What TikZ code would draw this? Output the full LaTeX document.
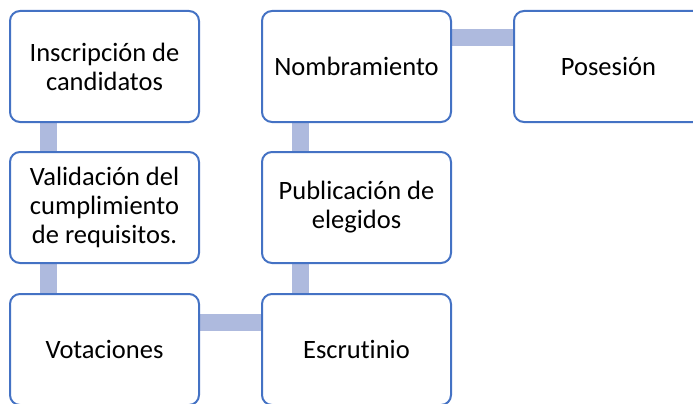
\documentclass[tikz,border=0pt]{standalone}
\usepackage{fontspec}
\setmainfont{Carlito}[Ligatures=NoCommon]
\usepackage{tikz}
\usetikzlibrary{positioning,backgrounds}
\definecolor{boxblue}{RGB}{68, 114, 196}
\definecolor{linkblue}{RGB}{174, 186, 222}
\tikzstyle{stepbox} = [rectangle, rounded corners=10pt, draw=boxblue, line width=2pt, fill=white, text=black, align=center, outer sep=0pt, inner sep=4pt, font=\fontsize{26.5pt}{29pt}\selectfont, minimum width=189pt, minimum height=111pt]
\tikzstyle{link} = [draw=linkblue, line width=17pt]

\begin{document}
\begin{tikzpicture}[x=1pt, y=1pt]

\useasboundingbox (0,0) rectangle (693,-404);
\clip (0,0) rectangle (693,-404);

% steps =============================

% first column
\node[stepbox] at (104.5,-66.5) (insc) {Inscripción de\\candidatos};
\node[stepbox, below=30pt of insc] (vali) {Validación del\\cumplimiento\\de requisitos.};
\node[stepbox, below=31pt of vali] (vota) {Votaciones};

% second column
\node[stepbox, right=63pt of vota] (escr) {Escrutinio};
\node[stepbox, right=63pt of vali] (publ) {Publicación de\\elegidos};
\node[stepbox, right=63pt of insc] (nomb) {Nombramiento};

% third column
\node[stepbox, right=63pt of nomb] (pose) {Posesión};

%links
\begin{scope}[on background layer]
\path[link] ([xshift=38.5pt]insc.south west) -- ([xshift=38.5pt]vali.north west);
\path[link] ([xshift=38.5pt]vali.south west) -- ([xshift=38.5pt]vota.north west);
\path[link] ([yshift=-28pt]vota.north east) -- ([yshift=-28pt]escr.north west);
\path[link] ([xshift=38.5pt]escr.north west) -- ([xshift=38.5pt]publ.south west);
\path[link] ([xshift=38.5pt]publ.north west) -- ([xshift=38.5pt]nomb.south west);
\path[link] ([yshift=-27pt]nomb.north east) -- ([yshift=-27pt]pose.north west);
\end{scope}

\end{tikzpicture}
\end{document}
